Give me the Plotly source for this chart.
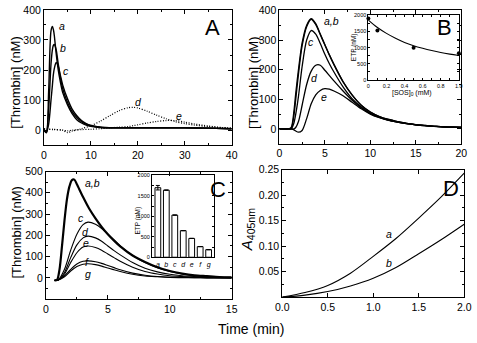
import plotly.graph_objects as go

W, H = 477, 343
def px(x): return x / W
def py(y): return 1 - y / H

# ---------------- Panel A data ----------------
tA = [0, 0.5, 1.0, 1.5, 1.8, 2.0, 2.2, 2.6, 3.0, 3.5, 4.0, 5, 6, 7, 8, 9, 10, 12, 15, 20, 25, 30, 35, 40]
A_a = [0, -8, 130, 330, 345, 335, 315, 255, 205, 160, 125, 85, 55, 35, 24, 17, 13, 9, 8, 8, 8, 8, 7, 5]
A_b = [0, -8, 70, 220, 268, 282, 285, 268, 225, 175, 138, 93, 62, 42, 28, 20, 15, 10, 8, 8, 8, 8, 7, 5]
A_c = [0, -8, 20, 100, 150, 185, 205, 225, 215, 182, 150, 105, 70, 48, 32, 22, 16, 10, 8, 8, 8, 8, 7, 5]
tA2 = [0, 2, 4, 5, 6, 8, 10, 12, 14, 16, 18, 19, 20, 22, 24, 26, 28, 30, 32, 35, 38, 40]
A_d = [5, 3, 0, -8, -3, 5, 15, 30, 48, 65, 75, 76, 74, 63, 50, 38, 28, 22, 17, 12, 8, 7]
A_e = [3, 2, 0, -2, 0, 2, 3, 5, 8, 10, 12, 15, 18, 24, 29, 32, 32, 27, 21, 14, 9, 7]

# ---------------- Panel B data ----------------
tB = [0, 1.0, 1.3, 1.6, 1.8, 2.1, 2.5, 3.0, 3.5, 4.0, 4.5, 5.0, 5.5, 6.0, 7, 8, 9, 10, 11, 12, 13, 14, 15, 16, 17, 18, 19, 20]
B_a = [0, 0, 5, 60, 120, 200, 290, 350, 372, 355, 320, 285, 250, 218, 160, 115, 80, 57, 42, 32, 25, 19, 15, 12, 9, 7, 6, 5]
B_b = [0, 0, 2, 45, 100, 185, 280, 345, 370, 352, 318, 283, 249, 217, 159, 114, 80, 57, 42, 32, 25, 19, 15, 12, 9, 7, 6, 5]
B_c = [0, 0, 0, 20, 50, 110, 210, 300, 332, 320, 288, 252, 220, 192, 142, 102, 74, 53, 40, 30, 23, 18, 14, 11, 9, 7, 6, 5]
B_d = [0, 0, 0, 0, 5, 25, 80, 150, 195, 215, 215, 198, 180, 162, 128, 97, 72, 52, 39, 30, 23, 18, 14, 11, 9, 7, 6, 5]
B_e = [0, 0, 0, -3, -7, -11, -5, 35, 85, 115, 130, 136, 134, 128, 112, 90, 68, 50, 38, 29, 23, 18, 14, 11, 9, 7, 6, 5]

# inset B
sos_pts = [0, 0.1, 0.5, 1.0]
etp_pts = [1900, 1530, 1000, 830]
sos_fit = [0, 0.1, 0.2, 0.3, 0.4, 0.5, 0.6, 0.7, 0.8, 0.9, 1.0]
etp_fit = [1850, 1620, 1440, 1290, 1160, 1060, 980, 910, 850, 800, 755]

# ---------------- Panel C data ----------------
tC = [0.7, 0.9, 1.1, 1.3, 1.5, 1.7, 1.9, 2.1, 2.3, 2.5, 3.0, 3.5, 4.0, 4.5, 5.0, 5.5, 6.0, 7, 8, 9, 10, 11, 12, 13, 14, 15]
C_ab = [-12, -10, 40, 150, 270, 370, 430, 460, 462, 440, 380, 325, 280, 240, 205, 175, 148, 105, 75, 50, 32, 20, 12, 8, 4, 2]
tC2 = [0.7, 1.0, 1.5, 2.0, 2.5, 3.0, 3.4, 4.0, 4.5, 5.0, 5.5, 6.0, 7, 8, 9, 10, 11, 12, 13, 14, 15]
C_c = [-12, -10, 40, 130, 205, 250, 262, 252, 232, 205, 178, 150, 105, 72, 48, 30, 18, 10, 5, 3, 2]
C_d = [-12, -10, 25, 95, 155, 188, 196, 188, 172, 150, 128, 108, 72, 45, 28, 17, 10, 6, 3, 2, 1]
C_e = [-12, -10, 18, 72, 118, 145, 150, 143, 130, 112, 95, 78, 50, 30, 18, 10, 6, 3, 2, 1, 1]
C_f = [-12, -10, 10, 40, 65, 78, 80, 76, 68, 58, 48, 38, 22, 12, 6, 3, 2, 1, 0, 0, 0]
C_g = [-12, -10, 5, 32, 53, 64, 66, 62, 55, 46, 38, 30, 17, 9, 5, 2, 1, 1, 0, 0, 0]

# inset C
etp_cats = ["a", "b", "c", "d", "e", "f", "g"]
etp_vals = [1700, 1640, 1030, 650, 460, 260, 185]
etp_err = [55, 0, 0, 0, 0, 0, 0]

# ---------------- Panel D data ----------------
tD = [0, 0.25, 0.5, 0.75, 1.0, 1.25, 1.5, 1.75, 2.0]
D_a = [0, 0.009, 0.023, 0.047, 0.080, 0.115, 0.155, 0.197, 0.243]
D_b = [0, 0.004, 0.011, 0.022, 0.037, 0.058, 0.085, 0.113, 0.143]

FONT = "Liberation Sans, Arial, sans-serif"
fig = go.Figure()

def line(x, y, xa, ya, w=1.3, dash="solid"):
    fig.add_trace(go.Scatter(x=x, y=y, xaxis=xa, yaxis=ya, mode="lines",
                             line=dict(color="black", width=w, dash=dash, shape="spline", smoothing=0.8),
                             showlegend=False, hoverinfo="skip"))

# A
line(tA, A_a, "x", "y", 1.4)
line(tA, A_b, "x", "y", 1.4)
line(tA, A_c, "x", "y", 1.4)
line(tA2, A_d, "x", "y", 1.2, "1px,1.6px")
line(tA2, A_e, "x", "y", 1.2, "1px,1.6px")
# B
for s in (B_a, B_b, B_c, B_d, B_e):
    line(tB, s, "x2", "y2", 1.3)
# inset B
fig.add_trace(go.Scatter(x=sos_fit, y=etp_fit, xaxis="x5", yaxis="y5", mode="lines",
                         line=dict(color="black", width=1.1, shape="spline"), showlegend=False))
fig.add_trace(go.Scatter(x=sos_pts, y=etp_pts, xaxis="x5", yaxis="y5", mode="markers",
                         marker=dict(color="black", size=4), cliponaxis=False, showlegend=False))
# C
line(tC, C_ab, "x3", "y3", 2.2)
for s in (C_c, C_d, C_e, C_f, C_g):
    line(tC2, s, "x3", "y3", 1.1)
# inset C
fig.add_trace(go.Bar(x=etp_cats, y=etp_vals, xaxis="x6", yaxis="y6", width=0.68,
                     marker=dict(color="white", line=dict(color="black", width=1)),
                     error_y=dict(type="data", array=etp_err, color="black", thickness=1, width=2),
                     showlegend=False))
# D
line(tD, D_a, "x4", "y4", 1.1)
line(tD, D_b, "x4", "y4", 1.1)

def ax(domain, rng, tickvals, minor=None, ticklen=4, fs=10.5, ticktext=None, anchor=None):
    d = dict(domain=domain, range=rng, tickvals=tickvals, ticks="inside", ticklen=ticklen,
             tickwidth=1, tickcolor="black", showline=True, linecolor="black", linewidth=1,
             mirror="ticks", showgrid=False, zeroline=False, anchor=anchor,
             tickfont=dict(family=FONT, size=fs, color="black"))
    if ticktext is not None:
        d["ticktext"] = ticktext
    if minor is not None:
        d["minor"] = dict(dtick=minor, ticks="inside", ticklen=max(2, ticklen // 2),
                          tickcolor="black", showgrid=False)
    return d

layout = dict(
    width=W, height=H, margin=dict(l=0, r=0, t=0, b=0),
    paper_bgcolor="white", plot_bgcolor="rgba(0,0,0,0)",
    font=dict(family=FONT, color="black"),
    bargap=0.3,
)
# A
layout["xaxis"] = ax([px(38), px(231)], [0, 40], [0, 10, 20, 30, 40], 5, anchor="y")
layout["yaxis"] = ax([py(143), py(4)], [-50, 400], [0, 100, 200, 300, 400], 50, anchor="x")
# B
layout["xaxis2"] = ax([px(280), px(467)], [0, 20], [0, 5, 10, 15, 20], 2.5, anchor="y2")
layout["yaxis2"] = ax([py(141.5), py(4.5)], [-50, 400], [0, 100, 200, 300, 400], 50, anchor="x2")
# C
layout["xaxis3"] = ax([px(40), px(231)], [0, 15], [0, 5, 10, 15], 2.5, anchor="y3")
layout["yaxis3"] = ax([py(301), py(170)], [-100, 500], [0, 100, 200, 300, 400, 500], 50, anchor="x3")
# D
layout["xaxis4"] = ax([px(283), px(470)], [0, 2], [0, 0.5, 1.0, 1.5, 2.0], None, anchor="y4",
                      ticktext=["0.0", "0.5", "1.0", "1.5", "2.0"])
layout["yaxis4"] = ax([py(299), py(168)], [0, 0.25], [0.05, 0.10, 0.15, 0.20, 0.25], 0.025, anchor="x4",
                      ticktext=["0.05", "0.10", "0.15", "0.20", "0.25"])
# inset B
layout["xaxis5"] = ax([px(371.5), px(464.5)], [0, 1.0], [0, 0.2, 0.4, 0.6, 0.8, 1.0], 0.1, ticklen=2, fs=5.5,
                      ticktext=["0", "0.2", "0.4", "0.6", "0.8", "1.0"], anchor="y5")
layout["yaxis5"] = ax([py(76), py(9.5)], [0, 2000], [0, 500, 1000, 1500, 2000], 250, ticklen=2, fs=5.5, anchor="x5")
# inset C
layout["xaxis6"] = dict(domain=[px(149), px(212.5)], range=[-0.7, 6.6], anchor="y6", type="category",
                        showline=True, linecolor="black", linewidth=1, mirror=True, ticks="",
                        tickvals=etp_cats, ticktext=["<i>%s</i>" % c for c in etp_cats],
                        tickfont=dict(family=FONT, size=7, color="black"), showgrid=False)
layout["yaxis6"] = ax([py(258), py(174)], [0, 2000], [0, 500, 1000, 1500, 2000], 250, ticklen=2, fs=5.5, anchor="x6")

fig.update_layout(**layout)

ann = []
def text(x, y, s, size=11, italic=False, angle=0, xanchor="center"):
    if italic:
        s = "<i>%s</i>" % s
    ann.append(dict(x=px(x), y=py(y), xref="paper", yref="paper", text=s, showarrow=False,
                    textangle=angle, xanchor=xanchor, yanchor="middle",
                    font=dict(family=FONT, size=size, color="black")))

# panel letters
text(211, 22, "A", 22)
text(450, 22, "B", 22)
text(217, 188, "C", 22)
text(456, 187, "D", 22)
# axis titles
text(9, 79, "[Thrombin] (nM)", 13, angle=-90)
text(254, 79, "[Thrombin] (nM)", 13, angle=-90)
text(10, 233, "[Thrombin] (nM)", 13, angle=-90)
text(248, 230, "<i>A</i><sub>405nm</sub>", 15, angle=-90)
text(251, 332, "Time (min)", 14)
# inset titles
text(357, 42, "ETP (nM)", 6.5, angle=-90)
text(416, 89.5, "[SOS]<sub>0</sub> (mM)", 7)
text(135, 220, "ETP (nM)", 6.5, angle=-90)
# curve labels
for (x, y, s) in [(57, 21, "a"), (58, 43, "b"), (61, 67, "c"), (135, 99, "d"), (177, 113, "e"),
                  (334, 15, "a,b"), (313, 37, "c"), (316, 74, "d"), (326, 93, "e"),
                  (88, 182, "a,b"), (76, 218, "c"), (81, 232, "d"), (81, 243.5, "e"), (82, 263, "f"), (83, 275, "g"),
                  (393, 234, "a"), (393, 264, "b")]:
    text(x, y, s, 10.5, italic=True)

fig.update_layout(annotations=ann)
fig.write_html("out.html", config={"displayModeBar": False, "staticPlot": True},
               post_script="document.body.style.margin='0px';")
